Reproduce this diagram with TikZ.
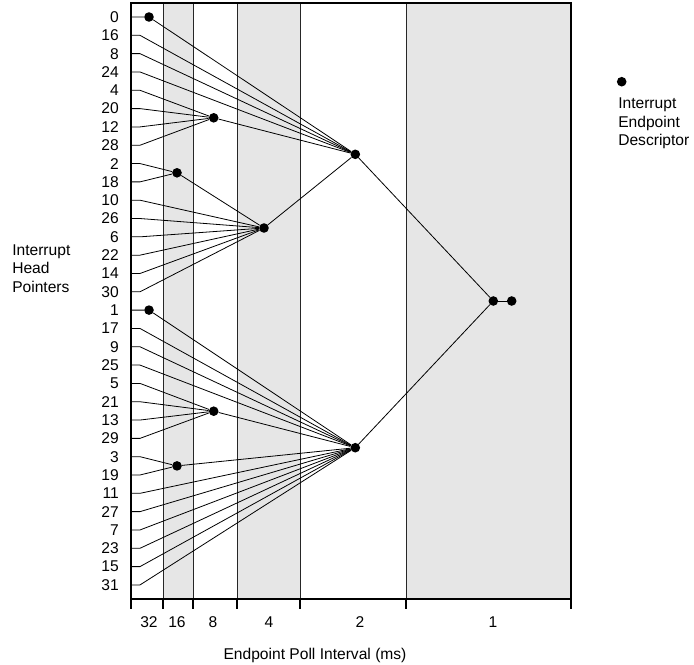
\documentclass[tikz,border=0pt]{standalone}
\usepackage{fontspec}
\setmainfont{Liberation Sans}
\definecolor{colbg}{RGB}{230,230,230}
\begin{document}
\begin{tikzpicture}[x=0.75pt,y=-0.75pt,
  every node/.style={font=\fontsize{11.7}{13.9}\selectfont},
  dot/.style={circle,fill=black,inner sep=0pt,minimum size=7.2pt},
  conn/.style={draw=black,line width=0.6pt},
  frameline/.style={draw=black,line width=0.9pt},
  divider/.style={draw=black!85,line width=0.7pt},
  rowlab/.style={anchor=east,inner sep=0pt},
  ticklab/.style={inner sep=0pt}]
\useasboundingbox (0,0) rectangle (694,665);
% shaded columns
\fill[colbg] (163,3) rectangle (193,599);
\fill[colbg] (237,3) rectangle (300,599);
\fill[colbg] (406,3) rectangle (571,599);
% dividers
\foreach \xx in {163,193,237,300,406}
  \draw[divider] (\xx,3) -- (\xx,599);
% frame
\draw[frameline] (131,3) -- (571,3) -- (571,599) -- (131,599) -- cycle;
% ticks
\foreach \xx in {131,163,193,237,300,406,571}
  \draw[frameline] (\xx,599) -- (\xx,609);
% rows
\foreach \lab [count=\i from 0] in {0,16,8,24,4,20,12,28,2,18,10,26,6,22,14,30,1,17,9,25,5,21,13,29,3,19,11,27,7,23,15,31} {
  \coordinate (h\lab) at (131,{17+\i*18.32});
  \coordinate (k\lab) at (140,{17+\i*18.32});
  \node[rowlab] (L\lab) at (119,{17+\i*18.32}) {\lab};
}
% descriptor dots
\node[dot] (D0) at (149,17) {};
\node[dot] (D1) at (149,310.1) {};
\node[dot] (A16) at (177,172.8) {};
\node[dot] (A8) at (213.7,117.8) {};
\node[dot] (A4) at (264,228) {};
\node[dot] (A2) at (355.3,154.3) {};
\node[dot] (B16) at (177,465.9) {};
\node[dot] (B8) at (213.7,411.2) {};
\node[dot] (B2) at (355.3,447.7) {};
\node[dot] (N1) at (493.3,301) {};
\node[dot] (N1b) at (511.7,301) {};
% upper half
\draw[conn] (h0) -- (D0) -- (A2);
\foreach \r in {16,8,24} \draw[conn] (h\r) -- (k\r) -- (A2);
\foreach \r in {4,20,12,28} \draw[conn] (h\r) -- (k\r) -- (A8);
\draw[conn] (A8) -- (A2);
\foreach \r in {2,18} \draw[conn] (h\r) -- (k\r) -- (A16);
\draw[conn] (A16) -- (A4);
\foreach \r in {10,26,6,22,14,30} \draw[conn] (h\r) -- (k\r) -- (A4);
\draw[conn] (A4) -- (A2);
% lower half
\draw[conn] (h1) -- (D1) -- (B2);
\foreach \r in {17,9,25} \draw[conn] (h\r) -- (k\r) -- (B2);
\foreach \r in {5,21,13,29} \draw[conn] (h\r) -- (k\r) -- (B8);
\draw[conn] (B8) -- (B2);
\foreach \r in {3,19} \draw[conn] (h\r) -- (k\r) -- (B16);
\draw[conn] (B16) -- (B2);
\foreach \r in {11,27,7,23,15,31} \draw[conn] (h\r) -- (k\r) -- (B2);
% 1 ms
\draw[conn] (A2) -- (N1);
\draw[conn] (B2) -- (N1);
\draw[conn] (N1) -- (N1b);
% axis labels
\node[ticklab] (t32) at (149,621.7) {32};
\node[ticklab] (t16) at (177,621.7) {16};
\node[ticklab] (t8) at (213,621.7) {8};
\node[ticklab] (t4) at (269,621.7) {4};
\node[ticklab] (t2) at (360,621.7) {2};
\node[ticklab] (t1) at (493,621.7) {1};
\node (xtitle) at (315,655) {Endpoint Poll Interval (ms)};
% side labels
\node[anchor=west,align=left,inner sep=0pt] (ytitle) at (12,268.5) {Interrupt\\Head\\Pointers};
\node[dot] (legdot) at (621.7,81.7) {};
\node[anchor=west,align=left,inner sep=0pt] (legtext) at (618,123.5) {Interrupt\\Endpoint\\Descriptor};
\end{tikzpicture}
\end{document}
